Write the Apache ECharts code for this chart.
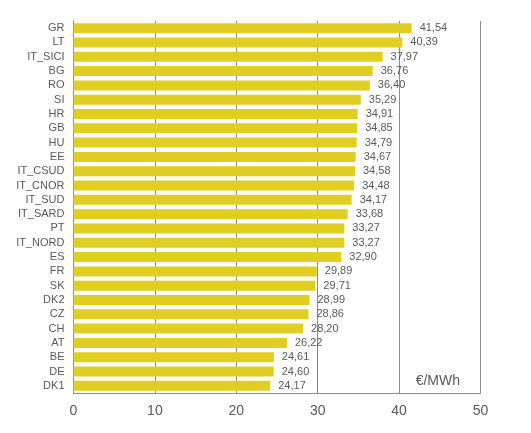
<!DOCTYPE html>
<html><head><meta charset="utf-8">
<script src="https://cdn.jsdelivr.net/npm/echarts@6/dist/echarts.min.js"></script>
<style>html,body{margin:0;padding:0;background:#fff}#c{width:531px;height:433px}</style>
</head><body><div id="c"></div>
<script>
const categories = ["GR","LT","IT_SICI","BG","RO","SI","HR","GB","HU","EE","IT_CSUD","IT_CNOR","IT_SUD","IT_SARD","PT","IT_NORD","ES","FR","SK","DK2","CZ","CH","AT","BE","DE","DK1"];
const values = [41.54,40.39,37.97,36.76,36.40,35.29,34.91,34.85,34.79,34.67,34.58,34.48,34.17,33.68,33.27,33.27,32.90,29.89,29.71,28.99,28.86,28.20,26.22,24.61,24.60,24.17];
const xTicks = [0,10,20,30,40,50];
const unitLabel = "€/MWh";

const chart = echarts.init(document.getElementById('c'));
chart.setOption({
  animation:false,
  textStyle:{fontFamily:'Liberation Sans, Arial, sans-serif'},
  grid:{left:73.5,right:50.5,top:21,bottom:40,containLabel:false},
  xAxis:{type:'value',min:xTicks[0],max:xTicks[xTicks.length-1],interval:10,
    axisLine:{show:true,lineStyle:{color:'#8c8c8c',width:1}},
    axisTick:{show:false},
    axisLabel:{color:'#595959',fontSize:14,margin:11},
    splitLine:{show:true,lineStyle:{color:'#8c8c8c',width:1}}},
  yAxis:{type:'category',data:categories,inverse:true,
    axisLine:{show:true,lineStyle:{color:'#8c8c8c',width:1}},
    axisTick:{show:false},
    axisLabel:{color:'#595959',fontSize:11,margin:9,interval:0}},
  series:[{type:'bar',data:values,barCategoryGap:'30%',
    itemStyle:{color:'#E0CE22'},
    label:{show:true,position:'right',distance:8,color:'#595959',fontSize:11,
      formatter:p=>p.value.toFixed(2).replace('.',',')}}],
  graphic:[{type:'text',right:71,top:374,style:{text:unitLabel,fill:'#595959',fontSize:14,fontFamily:'Liberation Sans, Arial, sans-serif'}}]
});
</script></body></html>
